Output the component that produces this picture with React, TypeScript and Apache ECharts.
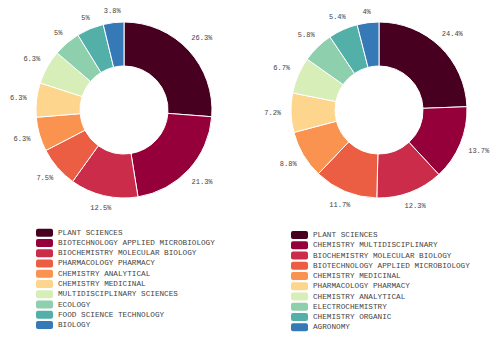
import React, { useEffect, useRef } from "react";
import * as echarts from "echarts";

const colors = ["#47001f", "#95003a", "#cb2c4a", "#eb5e43", "#f9934f", "#fdd58c", "#d8eeb8", "#8ed0ad", "#53b0a8", "#3679b7"];

const leftNames = [
  "PLANT SCIENCES",
  "BIOTECHNOLOGY APPLIED MICROBIOLOGY",
  "BIOCHEMISTRY MOLECULAR BIOLOGY",
  "PHARMACOLOGY PHARMACY",
  "CHEMISTRY ANALYTICAL",
  "CHEMISTRY MEDICINAL",
  "MULTIDISCIPLINARY SCIENCES",
  "ECOLOGY",
  "FOOD SCIENCE TECHNOLOGY",
  "BIOLOGY",
];
const leftValues = [26.3, 21.3, 12.5, 7.5, 6.3, 6.3, 6.3, 5, 5, 3.8];

const rightNames = [
  "PLANT SCIENCES",
  "CHEMISTRY MULTIDISCIPLINARY",
  "BIOCHEMISTRY MOLECULAR BIOLOGY",
  "BIOTECHNOLOGY APPLIED MICROBIOLOGY",
  "CHEMISTRY MEDICINAL",
  "PHARMACOLOGY PHARMACY",
  "CHEMISTRY ANALYTICAL",
  "ELECTROCHEMISTRY",
  "CHEMISTRY ORGANIC",
  "AGRONOMY",
];
const rightValues = [24.4, 13.7, 12.3, 11.7, 8.8, 7.2, 6.7, 5.8, 5.4, 4];

const FONT = "Liberation Mono";

function pieSeries(names: string[], values: number[], center: [number, number]) {
  const [cx, cy] = center;
  return [
    {
      type: "pie",
      center,
      radius: [44, 88],
      startAngle: 90,
      clockwise: true,
      data: values.map((v, i) => ({
        name: names[i],
        value: v,
        itemStyle: { color: colors[i] },
      })),
      itemStyle: { borderColor: "#ffffff", borderWidth: 1 },
      label: { show: false },
      labelLine: { show: false },
    },
    {
      type: "pie",
      center,
      radius: [88, 102],
      startAngle: 90,
      clockwise: true,
      silent: true,
      data: values.map((v, i) => ({ name: names[i], value: v })),
      itemStyle: { color: "rgba(0,0,0,0)", borderWidth: 0 },
      label: {
        show: true,
        position: "inside",
        formatter: "{c}%",
        color: "#444",
        fontFamily: FONT,
        fontSize: 7,
      },
      labelLine: { show: false },
      labelLayout: (p: any) => {
        const r = p.labelRect;
        const lx = r.x + r.width / 2;
        const ly = r.y + r.height / 2;
        const ux = lx - cx;
        const uy = ly - cy;
        const L = Math.hypot(ux, uy) || 1;
        const nx = ux / L;
        const ny = uy / L;
        const extra = (r.width / 2) * Math.abs(nx) + Math.max(0, r.height / 2 - 3) * Math.abs(ny);
        return { dx: nx * extra, dy: ny * extra };
      },
    },
  ];
}

function legend(names: string[], left: number, top: number) {
  return {
    orient: "vertical",
    left,
    top,
    height: 110,
    itemWidth: 17,
    itemHeight: 8,
    itemGap: 2.26,
    selectedMode: false,
    data: names.map((n, i) => ({ name: n, itemStyle: { color: colors[i], borderWidth: 0 } })),
    textStyle: { fontFamily: FONT, fontSize: 7.7, color: "#444", lineHeight: 8, padding: 0 },
  };
}

export default function App() {
  const ref = useRef<HTMLDivElement>(null);
  useEffect(() => {
    document.body.style.margin = "0";
    const chart = echarts.init(ref.current!, undefined, { renderer: "svg" });
    chart.setOption({
      animation: false,
      backgroundColor: "#ffffff",
      legend: [legend(leftNames, 31, 223.7), legend(rightNames, 286, 226)],
      series: [
        ...pieSeries(leftNames, leftValues, [124, 110]),
        ...pieSeries(rightNames, rightValues, [379, 110]),
      ],
    });
    return () => chart.dispose();
  }, []);
  return <div ref={ref} style={{ width: 499, height: 338 }} />;
}
